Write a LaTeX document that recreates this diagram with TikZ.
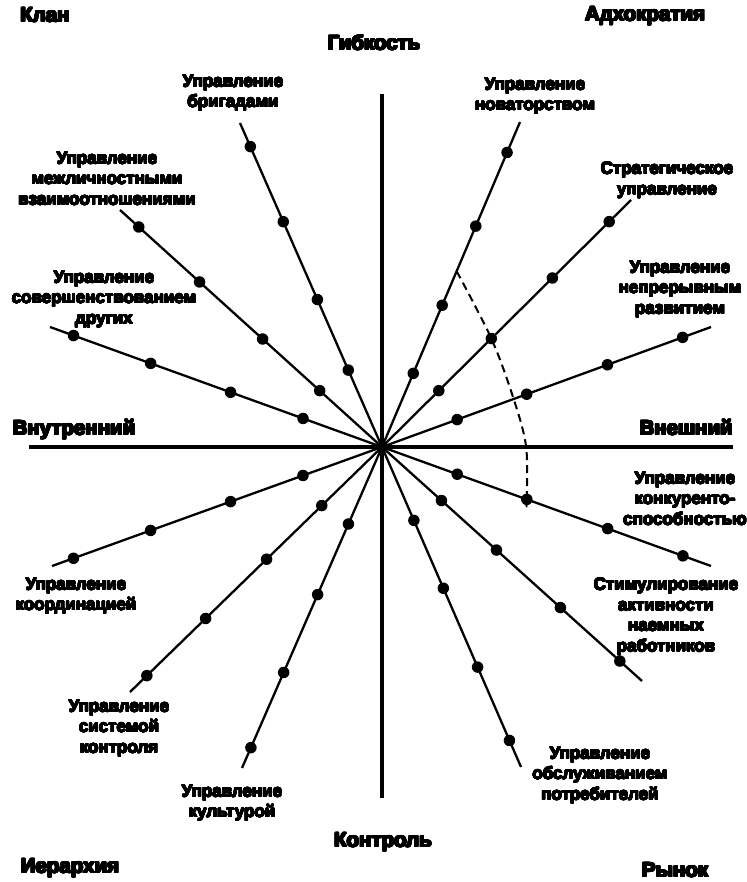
\documentclass[tikz,border=0pt]{standalone}
\usepackage{fontspec}
\setmainfont{Liberation Sans}
\usepackage{contour}
\contournumber{24}
\usetikzlibrary{calc}
\newcommand\labfnt{\fontsize{17}{20.5}\selectfont\bfseries}
\newcommand\headfnt{\fontsize{20.5}{24}\selectfont\bfseries}
\newcommand\cl[1]{\contourlength{0.45pt}\contour{black}{#1}}
\newcommand\ch[1]{\contourlength{0.75pt}\contour{black}{#1}}
\tikzset{
  axisline/.style={line width=3.2pt},
  spoke/.style={line width=2.3pt},
  dotmark/.style={circle, fill=black, inner sep=0pt, minimum size=11.5pt},
  lab/.style={font=\labfnt, align=center, inner sep=0pt, anchor=north},
  head/.style={font=\headfnt, inner sep=0pt, anchor=base},
  dashline/.style={line width=2pt, dash pattern=on 8pt off 5pt}
}
\begin{document}
\begin{tikzpicture}[x=1pt, y=-1pt]
\useasboundingbox (0,0) rectangle (746,882);
\coordinate (O) at (382,447);
% axes
\coordinate (top) at (382,94);
\coordinate (bot) at (382,798);
\coordinate (lft) at (29,447);
\coordinate (rgt) at (733,447);
\draw[axisline] (top) -- (bot);
\draw[axisline] (lft) -- (rgt);
% spokes: id / end x / end y / dot distances
\foreach \n/\x/\y/\a/\b/\c/\d in {
  1/240/123/84/161/246/328,
  2/120/210/84/161/246/328,
  3/50/327/84/161/246/328,
  7/52/566/84/161/246/328,
  8/130/692/84/161/246/328,
  9/242/768/84/161/246/328,
  4/520/122/80/154/240/320,
  5/631/200/80/154/240/320,
  6/711/327/80/154/240/320,
  10/711/566/80/154/240/320,
  11/642/681/80/154/240/320,
  12/521/767/80/154/240/320}{
  \coordinate (e\n) at (\x,\y);
  \draw[spoke] (O) -- (e\n);
  \foreach \k/\dd in {1/\a,2/\b,3/\c,4/\d}
    \node[dotmark] (d\n-\k) at ($(O)!\dd pt!(e\n)$) {};
}
% dashed curve
\coordinate (ds) at ($(O)!191pt!(e4)$);
\coordinate (m1) at (513,397);
\coordinate (m2) at (526,446);
\coordinate (de) at (526,506);
\draw[dashline] plot[smooth, tension=0.55] coordinates {(ds) (d5-2.center) (m1) (m2) (d10-2.center) (de)};
% headings
\node[head] (klan) at (45,22) {\ch{Клан}};
\node[head] (adh) at (645,21) {\ch{Адхократия}};
\node[head] (gib) at (374,50) {\ch{Гибкость}};
\node[head] (vnu) at (74,435) {\ch{Внутренний}};
\node[head, anchor=base east] (vne) at (733,435) {\ch{Внешний}};
\node[head] (kon) at (383,847) {\ch{Контроль}};
\node[head] (ier) at (70,873) {\ch{Иерархия}};
\node[head] (ryn) at (675,877) {\ch{Рынок}};
% spoke labels
\node[lab] (l1) at (233,75) {\cl{Управление}\\\cl{бригадами}};
\node[lab] (l2) at (107,152) {\cl{Управление}\\\cl{межличностными}\\\cl{взаимоотношениями}};
\node[lab] (l3) at (104,271) {\cl{Управление}\\\cl{совершенствованием}\\\cl{других}};
\node[lab] (l4) at (535,78) {\cl{Управление}\\\cl{новаторством}};
\node[lab] (l5) at (667,162) {\cl{Стратегическое}\\\cl{управление}};
\node[lab] (l6) at (680,261) {\cl{Управление}\\\cl{непрерывным}\\\cl{развитием}};
\node[lab] (l7) at (76,578) {\cl{Управление}\\\cl{координацией}};
\node[lab] (l8) at (119,700) {\cl{Управление}\\\cl{системой}\\\cl{контроля}};
\node[lab] (l9) at (232,785) {\cl{Управление}\\\cl{культурой}};
\node[lab] (l10) at (685,472) {\cl{Управление}\\\cl{конкуренто-}\\\cl{способностью}};
\node[lab] (l11) at (666,578) {\cl{Стимулирование}\\\cl{активности}\\\cl{наемных}\\\cl{работников}};
\node[lab] (l12) at (600,747) {\cl{Управление}\\\cl{обслуживанием}\\\cl{потребителей}};
\end{tikzpicture}
\end{document}
